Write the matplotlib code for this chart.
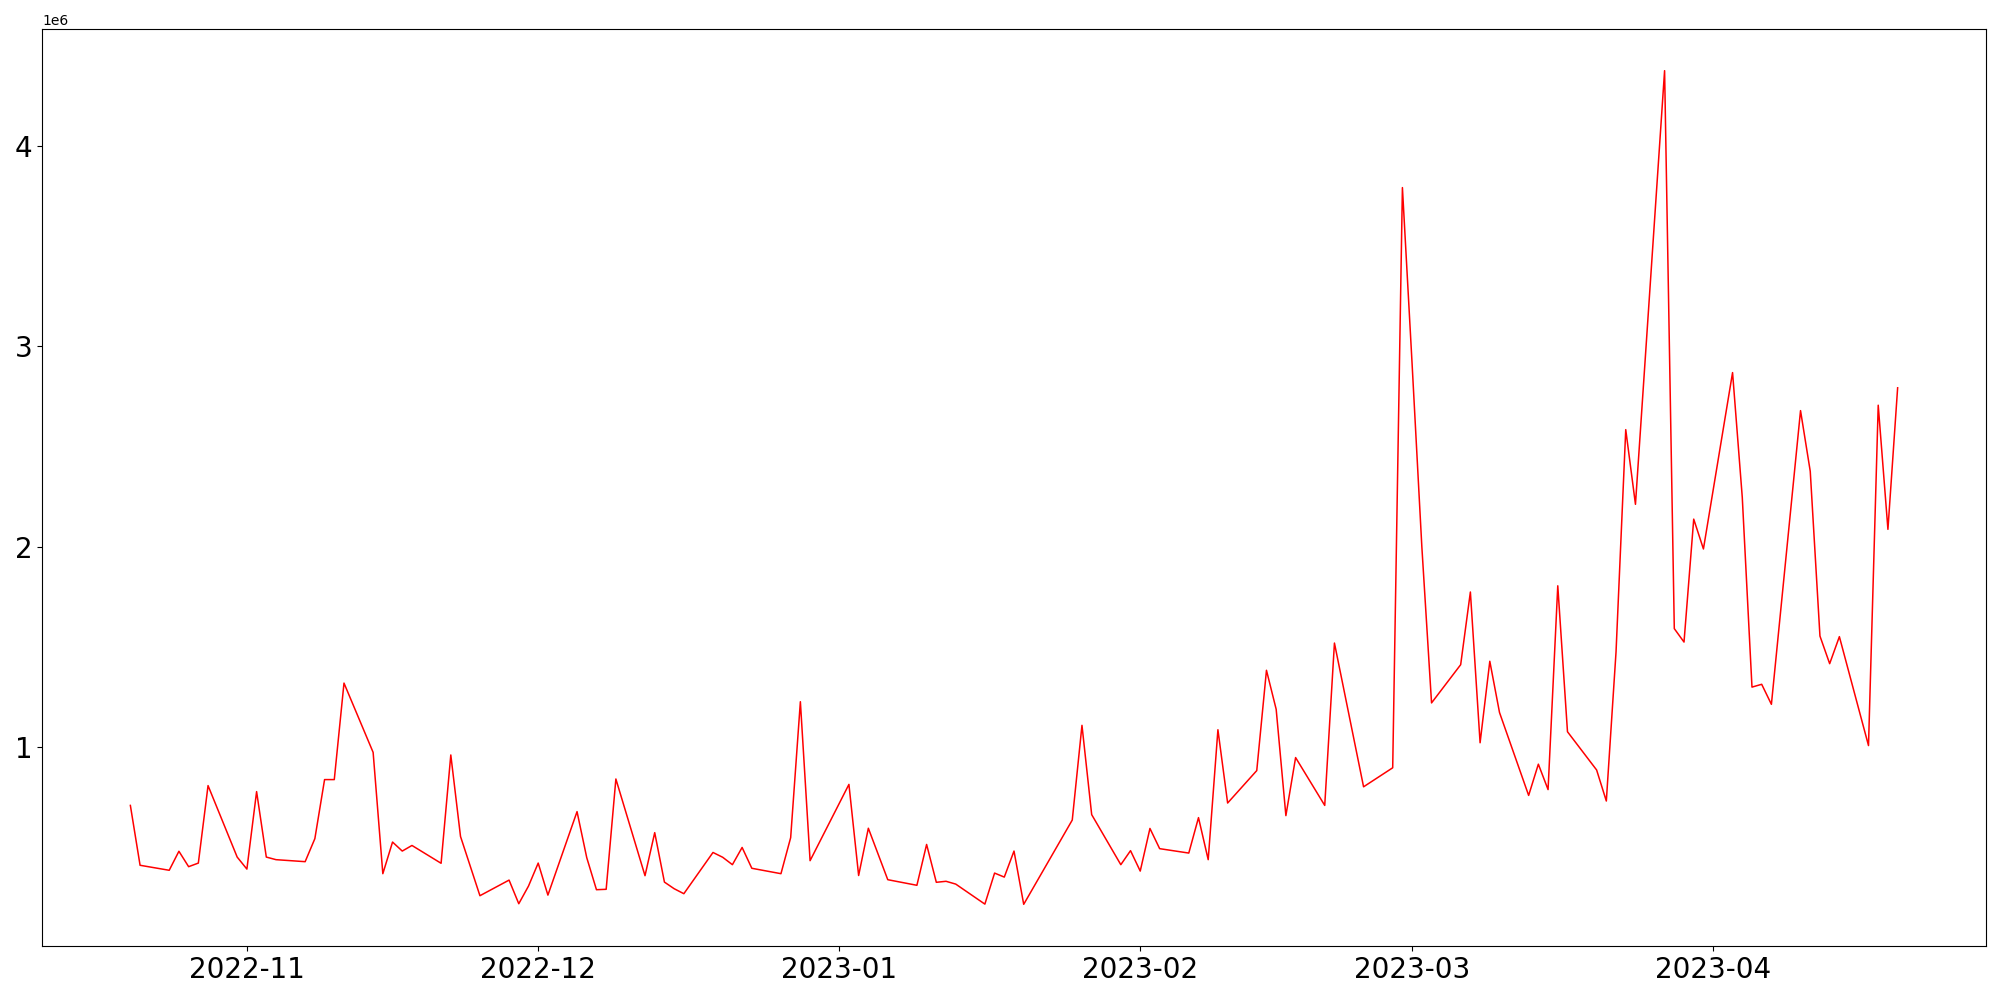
import matplotlib
matplotlib.use("Agg")
import matplotlib.pyplot as plt
import pandas as pd

dates = [
    "2022-10-20", "2022-10-21", "2022-10-24", "2022-10-25", "2022-10-26", "2022-10-27", "2022-10-28",
    "2022-10-31", "2022-11-01", "2022-11-02", "2022-11-03", "2022-11-04",
    "2022-11-07", "2022-11-08", "2022-11-09", "2022-11-10", "2022-11-11",
    "2022-11-14", "2022-11-15", "2022-11-16", "2022-11-17", "2022-11-18",
    "2022-11-21", "2022-11-22", "2022-11-23", "2022-11-25",
    "2022-11-28", "2022-11-29", "2022-11-30", "2022-12-01", "2022-12-02",
    "2022-12-05", "2022-12-06", "2022-12-07", "2022-12-08", "2022-12-09",
    "2022-12-12", "2022-12-13", "2022-12-14", "2022-12-15", "2022-12-16",
    "2022-12-19", "2022-12-20", "2022-12-21", "2022-12-22", "2022-12-23",
    "2022-12-26", "2022-12-27", "2022-12-28", "2022-12-29",
    "2023-01-02", "2023-01-03", "2023-01-04", "2023-01-06",
    "2023-01-09", "2023-01-10", "2023-01-11", "2023-01-12", "2023-01-13",
    "2023-01-16", "2023-01-17", "2023-01-18", "2023-01-19", "2023-01-20",
    "2023-01-25", "2023-01-26", "2023-01-27",
    "2023-01-30", "2023-01-31", "2023-02-01", "2023-02-02", "2023-02-03",
    "2023-02-06", "2023-02-07", "2023-02-08", "2023-02-09", "2023-02-10",
    "2023-02-13", "2023-02-14", "2023-02-15", "2023-02-16", "2023-02-17",
    "2023-02-20", "2023-02-21", "2023-02-24",
    "2023-02-27", "2023-02-28", "2023-03-01", "2023-03-02", "2023-03-03",
    "2023-03-06", "2023-03-07", "2023-03-08", "2023-03-09", "2023-03-10",
    "2023-03-13", "2023-03-14", "2023-03-15", "2023-03-16", "2023-03-17",
    "2023-03-20", "2023-03-21", "2023-03-22", "2023-03-23", "2023-03-24",
    "2023-03-27", "2023-03-28", "2023-03-29", "2023-03-30", "2023-03-31",
    "2023-04-03", "2023-04-04", "2023-04-05", "2023-04-06", "2023-04-07",
    "2023-04-10", "2023-04-11", "2023-04-12", "2023-04-13", "2023-04-14",
    "2023-04-17", "2023-04-18", "2023-04-19", "2023-04-20",
]

values = [
    707000, 408000, 383000, 478000, 401000, 419000, 806000,
    449000, 389000, 776000, 449000, 436000,
    426000, 541000, 836000, 836000, 1318000,
    972000, 366000, 524000, 479000, 507000,
    418000, 959000, 552000, 256000,
    334000, 216000, 304000, 419000, 259000,
    676000, 446000, 286000, 288000, 839000,
    356000, 571000, 324000, 291000, 266000,
    472000, 448000, 411000, 497000, 393000,
    366000, 546000, 1225000, 431000,
    812000, 357000, 593000, 336000,
    308000, 512000, 323000, 328000, 314000,
    214000, 369000, 349000, 479000, 213000,
    634000, 1107000, 661000,
    411000, 481000, 379000, 592000, 491000,
    469000, 646000, 436000, 1085000, 719000,
    881000, 1382000, 1187000, 656000, 946000,
    707000, 1518000, 800000,
    895000, 3793000, 2910000, 2000000, 1219000,
    1410000, 1773000, 1020000, 1427000, 1171000,
    757000, 913000, 786000, 1804000, 1075000,
    884000, 729000, 1474000, 2584000, 2211000,
    4377000, 1590000, 1523000, 2137000, 1988000,
    2869000, 2246000, 1298000, 1312000, 1212000,
    2679000, 2376000, 1553000, 1415000, 1550000,
    1006000, 2706000, 2086000, 2793000,
]

x = pd.to_datetime(dates)

fig = plt.figure(figsize=(20, 10), dpi=100)
ax = fig.add_subplot(111)
ax.plot(x, values, color="red", linewidth=1.1)
ax.tick_params(axis="both", labelsize=20)
fig.subplots_adjust(left=0.021, right=0.993, bottom=0.054, top=0.971)
fig.savefig("out.png", dpi=100)
